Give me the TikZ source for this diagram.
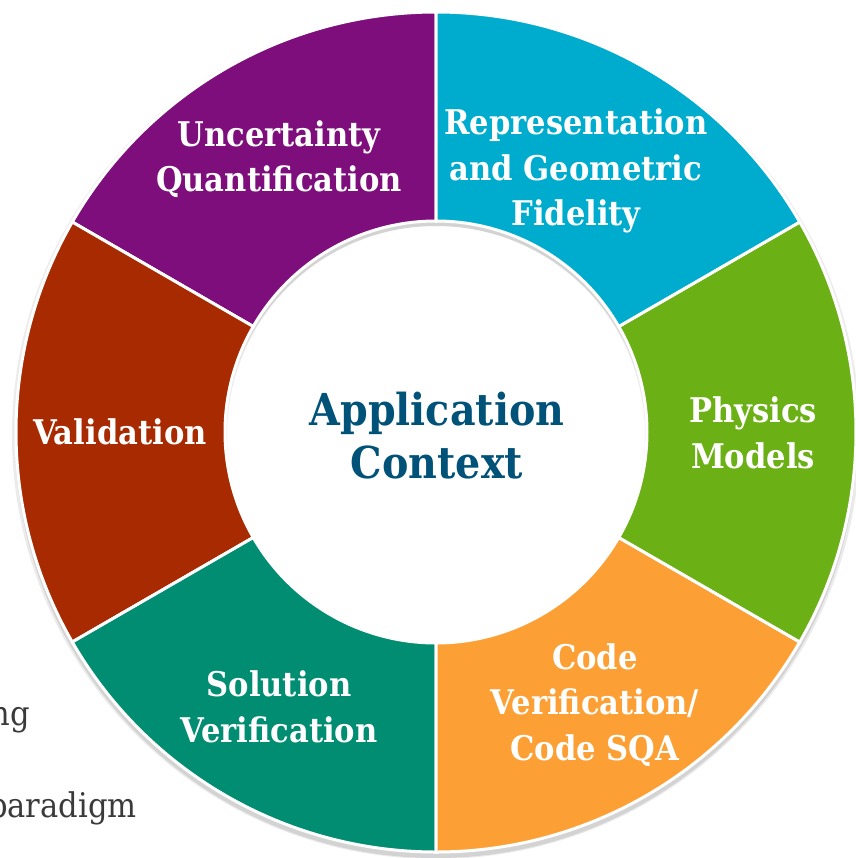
\documentclass[tikz,border=0pt]{standalone}
\usepackage{fontspec}
\setmainfont{DejaVu Serif Condensed}
\usepackage{xcolor}
\usepackage{tikz}

\definecolor{uqpurple}{HTML}{7E0E7B}
\definecolor{repcyan}{HTML}{00ACCE}
\definecolor{physgreen}{HTML}{6BB014}
\definecolor{codeorange}{HTML}{FCA035}
\definecolor{solvteal}{HTML}{008D72}
\definecolor{valred}{HTML}{A82A00}
\definecolor{ctxblue}{HTML}{005278}
\definecolor{bodygray}{HTML}{3A3A3A}

\begin{document}
\begin{tikzpicture}[x=0.5pt,y=0.5pt]
\tikzstyle{sector}=[draw=white, line width=1.5pt]
\tikzstyle{seglabel}=[text=white, align=center, inner sep=0pt, font=\bfseries\fontsize{17}{22.8}\selectfont]
\tikzstyle{bodytext}=[anchor=base east, inner sep=0pt, text=bodygray, font=\fontsize{17}{20}\selectfont]
\useasboundingbox (0,0) rectangle (856,-858);
\clip (0,0) rectangle (856,-858);

% running text behind the wheel
\node[bodytext] (ngword) at (30,-725) {ng};
\node[bodytext] (paradigm) at (137,-817) {paradigm};

\begin{scope}[shift={(436,-432)}]
% soft shadow of the ring
\fill[black, opacity=0.08, even odd rule] (0,-3) circle (424) (0,-3) circle (209);
\fill[black, opacity=0.10, even odd rule] (0,-5) circle (421) (0,-5) circle (211);
% six sectors of 60 degrees
\filldraw[sector, fill=uqpurple] (90:420) arc (90:150:420) -- (150:211) arc (150:90:211) -- cycle;
\filldraw[sector, fill=valred] (150:420) arc (150:210:420) -- (210:211) arc (210:150:211) -- cycle;
\filldraw[sector, fill=solvteal] (210:420) arc (210:270:420) -- (270:211) arc (270:210:211) -- cycle;
\filldraw[sector, fill=codeorange] (270:420) arc (270:330:420) -- (330:211) arc (330:270:211) -- cycle;
\filldraw[sector, fill=physgreen] (-30:420) arc (-30:30:420) -- (30:211) arc (30:-30:211) -- cycle;
\filldraw[sector, fill=repcyan] (30:420) arc (30:90:420) -- (90:211) arc (90:30:211) -- cycle;
\end{scope}

% sector labels
\node[seglabel] (uqlabel) at (279,-159) {Uncertainty\\Quantification};
\node[seglabel] (replabel) at (576,-171) {Representation\\and Geometric\\Fidelity};
\node[seglabel] (physlabel) at (753,-433) {Physics\\Models};
\node[seglabel] (codelabel) at (595,-705) {Code\\Verification/\\Code SQA};
\node[seglabel] (solvlabel) at (279,-707) {Solution\\Verification};
\node[seglabel] (vallabel) at (120,-432) {Validation};

% hub
\node[align=center, inner sep=0pt, text=ctxblue, font=\bfseries\fontsize{22}{26.5}\selectfont] (appctx) at (437,-436) {Application\\Context};
\end{tikzpicture}
\end{document}
